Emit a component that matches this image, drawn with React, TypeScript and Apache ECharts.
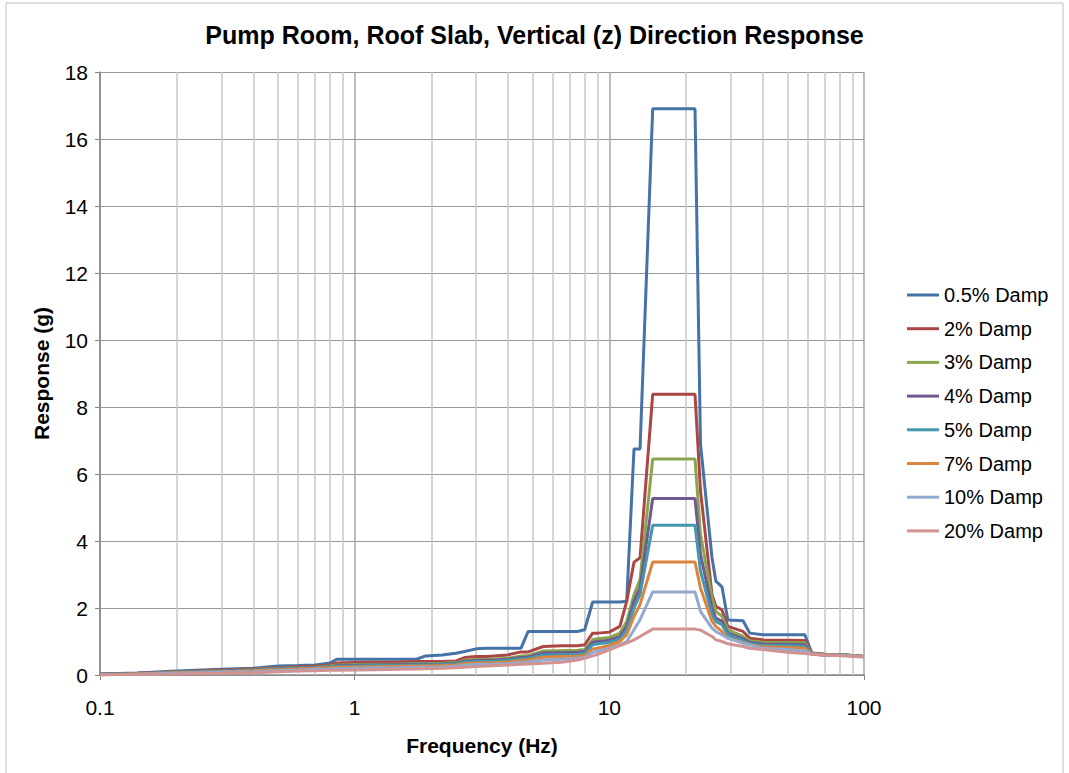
import React, { useEffect, useRef } from "react";
import * as echarts from "echarts";

const TITLE = "Pump Room, Roof Slab, Vertical (z) Direction Response";
const X_NAME = "Frequency (Hz)";
const Y_NAME = "Response (g)";

const FREQS = [0.1, 0.14, 0.2, 0.3, 0.4, 0.5, 0.6, 0.7, 0.8, 0.85, 1.0, 1.2, 1.5, 1.75, 1.9, 2.2, 2.5, 2.7, 3.0, 3.3, 4.0, 4.5, 4.8, 5.5, 6.5, 7.5, 8.0, 8.6, 9.0, 10, 11, 11.7, 12.5, 13.2, 14.8, 21.7, 22.8, 25.3, 26.2, 27.7, 29.2, 33.5, 35.6, 40, 50, 58.6, 62.4, 70, 85, 100];

const SERIES_NAMES = ["0.5% Damp", "2% Damp", "3% Damp", "4% Damp", "5% Damp", "7% Damp", "10% Damp", "20% Damp"];

const DAMP_05 = [0.03, 0.06, 0.12, 0.17, 0.2, 0.27, 0.28, 0.3, 0.36, 0.47, 0.47, 0.47, 0.47, 0.47, 0.57, 0.6, 0.65, 0.7, 0.78, 0.8, 0.8, 0.8, 1.3, 1.3, 1.3, 1.3, 1.35, 2.18, 2.18, 2.18, 2.18, 2.2, 6.75, 6.75, 16.9, 16.9, 6.9, 3.5, 2.8, 2.63, 1.64, 1.62, 1.25, 1.2, 1.2, 1.2, 0.65, 0.62, 0.6, 0.55];
const DAMP_2 = [0.02, 0.05, 0.1, 0.15, 0.18, 0.22, 0.25, 0.27, 0.3, 0.36, 0.37, 0.38, 0.39, 0.4, 0.4, 0.4, 0.42, 0.52, 0.55, 0.55, 0.6, 0.69, 0.69, 0.85, 0.87, 0.87, 0.9, 1.25, 1.25, 1.28, 1.45, 2.2, 3.37, 3.5, 8.38, 8.38, 5.5, 2.4, 2.05, 1.94, 1.45, 1.3, 1.1, 1.05, 1.04, 1.03, 0.66, 0.62, 0.6, 0.55];
const DAMP_3 = [0.02, 0.04, 0.09, 0.13, 0.16, 0.2, 0.22, 0.24, 0.27, 0.3, 0.31, 0.32, 0.33, 0.34, 0.34, 0.35, 0.37, 0.44, 0.46, 0.46, 0.5, 0.57, 0.58, 0.72, 0.73, 0.74, 0.76, 1.05, 1.08, 1.12, 1.25, 1.6, 2.4, 2.85, 6.45, 6.45, 4.2, 2.3, 1.9, 1.75, 1.35, 1.15, 1.02, 0.98, 0.97, 0.96, 0.64, 0.61, 0.6, 0.55];
const DAMP_4 = [0.02, 0.04, 0.08, 0.12, 0.15, 0.19, 0.21, 0.23, 0.25, 0.28, 0.29, 0.3, 0.31, 0.32, 0.32, 0.33, 0.35, 0.41, 0.43, 0.43, 0.47, 0.52, 0.54, 0.66, 0.67, 0.68, 0.7, 0.98, 1.0, 1.04, 1.15, 1.45, 2.2, 2.6, 5.27, 5.27, 3.6, 2.0, 1.7, 1.6, 1.25, 1.08, 0.97, 0.93, 0.92, 0.9, 0.63, 0.6, 0.59, 0.55];
const DAMP_5 = [0.02, 0.04, 0.08, 0.11, 0.14, 0.18, 0.2, 0.22, 0.24, 0.26, 0.27, 0.28, 0.29, 0.3, 0.3, 0.31, 0.33, 0.38, 0.4, 0.4, 0.44, 0.48, 0.5, 0.6, 0.61, 0.62, 0.64, 0.9, 0.93, 0.97, 1.08, 1.35, 2.0, 2.4, 4.47, 4.47, 3.1, 1.8, 1.6, 1.5, 1.2, 1.03, 0.93, 0.89, 0.88, 0.86, 0.63, 0.6, 0.59, 0.55];
const DAMP_7 = [0.01, 0.03, 0.07, 0.1, 0.13, 0.16, 0.18, 0.2, 0.22, 0.23, 0.24, 0.25, 0.26, 0.27, 0.27, 0.28, 0.3, 0.34, 0.36, 0.36, 0.39, 0.43, 0.45, 0.53, 0.55, 0.56, 0.58, 0.78, 0.8, 0.88, 1.0, 1.2, 1.75, 2.1, 3.37, 3.37, 2.6, 1.6, 1.45, 1.3, 1.1, 0.97, 0.9, 0.84, 0.82, 0.8, 0.62, 0.6, 0.58, 0.55];
const DAMP_10 = [0.01, 0.02, 0.05, 0.08, 0.1, 0.13, 0.15, 0.17, 0.18, 0.19, 0.2, 0.21, 0.22, 0.23, 0.23, 0.24, 0.26, 0.29, 0.31, 0.31, 0.34, 0.37, 0.39, 0.45, 0.47, 0.5, 0.53, 0.68, 0.72, 0.8, 0.9, 1.0, 1.35, 1.65, 2.48, 2.48, 1.9, 1.4, 1.3, 1.2, 1.1, 0.95, 0.9, 0.8, 0.76, 0.72, 0.63, 0.6, 0.58, 0.54];
const DAMP_20 = [0.01, 0.02, 0.03, 0.05, 0.07, 0.1, 0.12, 0.13, 0.14, 0.14, 0.15, 0.16, 0.17, 0.18, 0.19, 0.2, 0.22, 0.23, 0.25, 0.27, 0.3, 0.32, 0.33, 0.35, 0.38, 0.45, 0.5, 0.57, 0.62, 0.75, 0.88, 0.95, 1.05, 1.15, 1.37, 1.37, 1.34, 1.15, 1.05, 1.0, 0.93, 0.85, 0.8, 0.76, 0.68, 0.64, 0.62, 0.6, 0.57, 0.54];

const SERIES_VALUES = [DAMP_05, DAMP_2, DAMP_3, DAMP_4, DAMP_5, DAMP_7, DAMP_10, DAMP_20];

const MINOR_GRID = [0.2, 0.3, 0.4, 0.5, 0.6, 0.7, 0.8, 0.9, 2, 3, 4, 5, 6, 7, 8, 9, 20, 30, 40, 50, 60, 70, 80, 90];

const COLORS = ["#4572A7", "#AA4643", "#89A54E", "#71588F", "#4198AF", "#DB843D", "#93A9CF", "#D19392"];
const FONT = "'Liberation Sans', Arial, sans-serif";

export default function App() {
  const ref = useRef<HTMLDivElement>(null);
  useEffect(() => {
    document.body.style.margin = "0";
    if (!ref.current) return;
    const chart = echarts.init(ref.current, null, { renderer: "svg" });
    const dataSeries = SERIES_NAMES.map((name, i) => ({
      name,
      type: "line",
      data: FREQS.map((f, j) => [f, SERIES_VALUES[i][j]]),
      showSymbol: false,
      symbol: "none",
      z: 3,
      lineStyle: { color: COLORS[i], width: 3 },
      itemStyle: { color: COLORS[i] },
    }));
    const gridSeries = {
      name: "minor-grid",
      type: "line",
      data: [[0.1, 0]],
      showSymbol: false,
      symbol: "none",
      silent: true,
      z: 1,
      lineStyle: { opacity: 0 },
      markLine: {
        silent: true,
        symbol: ["none", "none"],
        label: { show: false },
        lineStyle: { color: "#c8c8c8", width: 1.5, type: "solid" },
        data: MINOR_GRID.map((v) => ({ xAxis: v })),
        z: 1,
      },
    };
    chart.setOption({
      animation: false,
      backgroundColor: "#ffffff",
      textStyle: { fontFamily: FONT },
      title: {
        text: TITLE,
        left: "center",
        top: 17,
        textStyle: { fontFamily: FONT, fontSize: 25, fontWeight: "bold", color: "#000" },
      },
      graphic: [
        {
          type: "rect",
          shape: { x: 6, y: 3, width: 1057, height: 790 },
          style: { fill: "none", stroke: "#bfbfbf", lineWidth: 1 },
          silent: true,
        },
      ],
      grid: { left: 100, right: 205, top: 72, bottom: 98, containLabel: false },
      legend: {
        orient: "vertical",
        left: 902,
        top: 280,
        itemWidth: 32,
        itemHeight: 3,
        itemGap: 13.7,
        icon: "rect",
        data: SERIES_NAMES,
        textStyle: { fontFamily: FONT, fontSize: 20, color: "#000", lineHeight: 20 },
      },
      xAxis: {
        type: "log",
        logBase: 10,
        min: 0.1,
        max: 100,
        name: X_NAME,
        nameLocation: "middle",
        nameGap: 60,
        nameTextStyle: { fontFamily: FONT, fontSize: 21, fontWeight: "bold", color: "#000" },
        axisLine: { show: true, lineStyle: { color: "#868686", width: 1.5 } },
        axisTick: { show: true, inside: false, length: 5, lineStyle: { color: "#868686" } },
        axisLabel: {
          fontFamily: FONT,
          fontSize: 21,
          color: "#000",
          margin: 22,
          formatter: (v: number) => (v < 1 ? v.toFixed(1) : String(Math.round(v))),
        },
        splitLine: { show: true, lineStyle: { color: "#a6a6a6", width: 1.5 } },
      },
      yAxis: {
        type: "value",
        min: 0,
        max: 18,
        interval: 2,
        name: Y_NAME,
        nameLocation: "middle",
        nameGap: 48,
        nameTextStyle: { fontFamily: FONT, fontSize: 21, fontWeight: "bold", color: "#000" },
        axisLine: { show: true, lineStyle: { color: "#868686", width: 1.5 } },
        axisTick: { show: true, inside: false, length: 5, lineStyle: { color: "#868686" } },
        axisLabel: { fontFamily: FONT, fontSize: 21, color: "#000", margin: 12 },
        splitLine: { show: true, lineStyle: { color: "#999999", width: 1 } },
      },
      series: [gridSeries, ...dataSeries],
    });
    return () => chart.dispose();
  }, []);
  return <div ref={ref} style={{ width: 1069, height: 773 }} />;
}
